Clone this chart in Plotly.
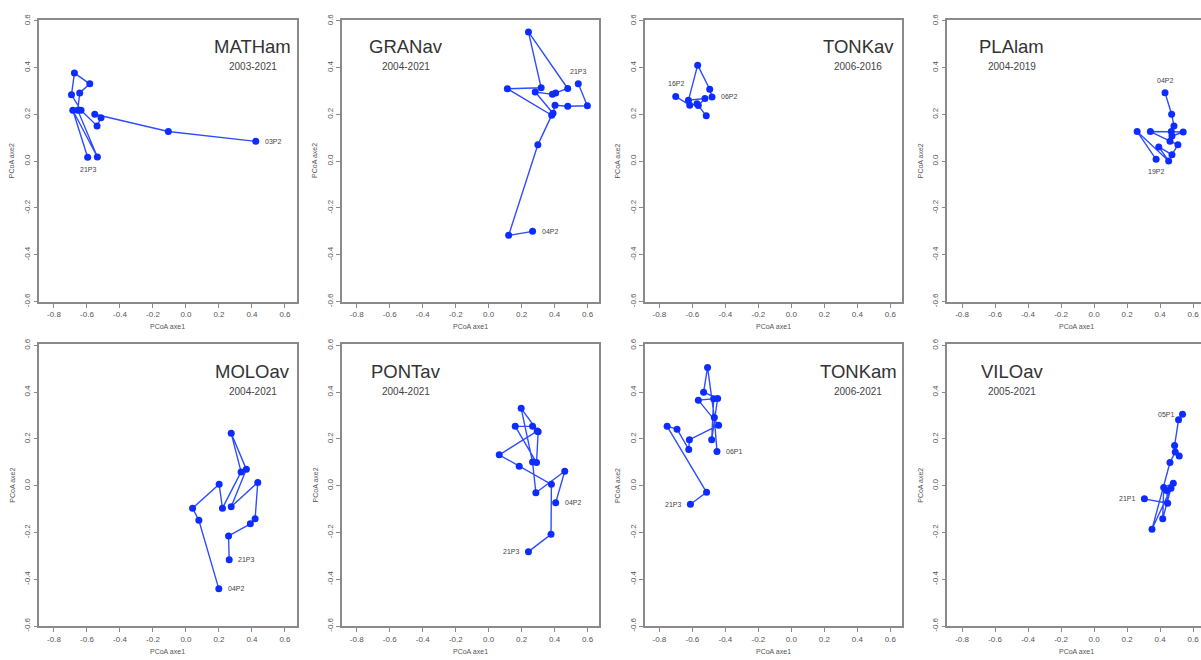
import plotly.graph_objects as go

# ---------------- data ----------------
sites = ["MATHam", "GRANav", "TONKav", "PLAlam", "MOLOav", "PONTav", "TONKam", "VILOav"]
periods = ["2003-2021", "2004-2021", "2006-2016", "2004-2019",
           "2004-2021", "2004-2021", "2006-2021", "2005-2021"]

mat_x = [0.423, -0.107, -0.553, -0.515, -0.539, -0.636, -0.694, -0.676, -0.583, -0.644, -0.656, -0.537, -0.686, -0.596]
mat_y = [0.085, 0.127, 0.201, 0.186, 0.151, 0.218, 0.284, 0.377, 0.331, 0.292, 0.218, 0.018, 0.218, 0.017]

gra_x = [0.266, 0.121, 0.298, 0.382, 0.113, 0.318, 0.241, 0.479, 0.406, 0.386, 0.282, 0.390, 0.402, 0.479, 0.598, 0.543]
gra_y = [-0.300, -0.317, 0.070, 0.197, 0.310, 0.314, 0.553, 0.311, 0.292, 0.286, 0.296, 0.205, 0.239, 0.235, 0.237, 0.331]

tkv_x = [-0.481, -0.495, -0.568, -0.624, -0.524, -0.564, -0.516, -0.572, -0.616, -0.701]
tkv_y = [0.275, 0.308, 0.411, 0.261, 0.268, 0.238, 0.194, 0.246, 0.239, 0.277]

pla_x = [0.430, 0.470, 0.484, 0.468, 0.472, 0.540, 0.341, 0.460, 0.508, 0.472, 0.392, 0.452, 0.261, 0.376]
pla_y = [0.293, 0.201, 0.151, 0.127, 0.108, 0.125, 0.127, 0.085, 0.070, 0.028, 0.061, 0.001, 0.127, 0.008]

mol_x = [0.199, 0.078, 0.040, 0.201, 0.221, 0.334, 0.274, 0.366, 0.274, 0.435, 0.419, 0.390, 0.258, 0.262]
mol_y = [-0.441, -0.148, -0.096, 0.006, -0.096, 0.059, 0.224, 0.070, -0.090, 0.014, -0.141, -0.163, -0.215, -0.317]

pon_x = [0.406, 0.461, 0.286, 0.266, 0.197, 0.300, 0.290, 0.161, 0.266, 0.294, 0.064, 0.185, 0.380, 0.378, 0.241]
pon_y = [-0.073, 0.062, -0.030, 0.101, 0.331, 0.231, 0.099, 0.254, 0.254, 0.234, 0.132, 0.083, 0.006, -0.208, -0.282]

tkm_x = [-0.451, -0.467, -0.508, -0.532, -0.447, -0.483, -0.471, -0.564, -0.441, -0.618, -0.622, -0.693, -0.753, -0.514, -0.612]
tkm_y = [0.146, 0.292, 0.506, 0.400, 0.373, 0.197, 0.372, 0.366, 0.259, 0.197, 0.155, 0.242, 0.254, -0.028, -0.079]

vil_x = [0.536, 0.512, 0.488, 0.516, 0.492, 0.460, 0.351, 0.480, 0.422, 0.416, 0.466, 0.440, 0.446, 0.305]
vil_y = [0.306, 0.282, 0.172, 0.127, 0.144, 0.099, -0.186, 0.011, -0.008, -0.141, -0.011, -0.020, -0.075, -0.056]

first_labels = ["03P2", "04P2", "06P2", "04P2", "04P2", "04P2", "06P1", "05P1"]
last_labels = ["21P3", "21P3", "16P2", "19P2", "21P3", "21P3", "21P3", "21P1"]

tick_vals = [-0.8, -0.6, -0.4, -0.2, 0.0, 0.2, 0.4, 0.6]
tick_text = ["-0.8", "-0.6", "-0.4", "-0.2", "0.0", "0.2", "0.4", "0.6"]
ytick_vals = [-0.6, -0.4, -0.2, 0.0, 0.2, 0.4, 0.6]
ytick_text = ["-0.6", "-0.4", "-0.2", "0.0", "0.2", "0.4", "0.6"]

xs = [mat_x, gra_x, tkv_x, pla_x, mol_x, pon_x, tkm_x, vil_x]
ys = [mat_y, gra_y, tkv_y, pla_y, mol_y, pon_y, tkm_y, vil_y]

# ---------------- style / layout ----------------
W, H = 1201, 660
FONT = "Liberation Sans, Arial, sans-serif"
MARK = "#0d2cff"
LINE = "#2f4dff"
BOX = "#8a8a8a"
TXT = "#555555"

title_x = [0.405, -0.50, 0.405, -0.50, 0.405, -0.50, 0.405, -0.50]
first_pos = ["right", "right", "right", "above", "right", "right", "right", "left"]
last_pos = ["below", "above", "above", "below", "right", "left", "left", "left"]

col_left = [39.3 + 302.7 * k for k in range(4)]
col_right = [min(296.7 + 302.7 * k, W) for k in range(4)]
row_top = [14, 344]
row_bot = [301, 631]
px_per_unit = (296.7 - 39.3) / 1.56
x_lo = -0.889

fig = go.Figure()
layout = dict(width=W, height=H, margin=dict(l=0, r=0, t=0, b=0),
              paper_bgcolor="white", plot_bgcolor="white", showlegend=False,
              font=dict(family=FONT, color=TXT))
annotations = []

for i in range(8):
    r, c = divmod(i, 4)
    k = "" if i == 0 else str(i + 1)
    xa, ya = "x" + k, "y" + k
    fig.add_trace(go.Scatter(x=xs[i], y=ys[i], mode="lines+markers", xaxis=xa, yaxis=ya,
                             line=dict(color=LINE, width=1.4),
                             marker=dict(color=MARK, size=7), hoverinfo="skip"))
    x_hi = x_lo + (col_right[c] - col_left[c]) / px_per_unit
    layout["xaxis" + k] = dict(domain=[col_left[c] / W, col_right[c] / W], anchor=ya,
                               range=[x_lo, x_hi], showgrid=False, zeroline=False,
                               showline=True, mirror=True, linecolor=BOX, linewidth=1.6,
                               ticks="outside", ticklen=4, tickcolor=BOX, tickwidth=1,
                               tickvals=tick_vals, ticktext=tick_text,
                               tickfont=dict(size=8, color=TXT, family=FONT))
    layout["yaxis" + k] = dict(domain=[1 - row_bot[r] / H, 1 - row_top[r] / H], anchor=xa,
                               range=[-0.602, 0.605], showgrid=False, zeroline=False,
                               showline=True, mirror=(c != 3), linecolor=BOX, linewidth=1.6,
                               ticks="outside", ticklen=4, tickcolor=BOX, tickwidth=1,
                               tickvals=ytick_vals, ticktext=ytick_text, tickangle=-90,
                               tickfont=dict(size=8, color=TXT, family=FONT))
    # axis titles
    annotations.append(dict(text="PCoA axe1", xref=xa + " domain", yref=ya + " domain",
                            x=(0.5 * (296.7 - 39.3)) / (col_right[c] - col_left[c]),
                            y=0, yanchor="middle", yshift=-25, showarrow=False,
                            font=dict(size=7, color=TXT, family=FONT)))
    annotations.append(dict(text="PCoA axe2", xref=xa + " domain", yref=ya + " domain",
                            x=0, y=0.5, xanchor="center", xshift=-27, textangle=-90,
                            showarrow=False, font=dict(size=7, color=TXT, family=FONT)))
    # site title and period
    annotations.append(dict(text=sites[i], xref=xa, yref=ya, x=title_x[i], y=0.49,
                            showarrow=False, font=dict(size=18.5, color="#333333", family=FONT)))
    annotations.append(dict(text=periods[i], xref=xa, yref=ya, x=title_x[i], y=0.405,
                            showarrow=False, font=dict(size=10, color="#444444", family=FONT)))
    # first / last point labels
    for lab, pos, idx in ((first_labels[i], first_pos[i], 0), (last_labels[i], last_pos[i], -1)):
        a = dict(text=lab, xref=xa, yref=ya, x=xs[i][idx], y=ys[i][idx], showarrow=False,
                 font=dict(size=7, color="#444444", family=FONT))
        if pos == "right":
            a.update(xanchor="left", xshift=7)
        elif pos == "left":
            a.update(xanchor="right", xshift=-7)
        elif pos == "above":
            a.update(yanchor="bottom", yshift=7)
        else:
            a.update(yanchor="top", yshift=-7)
        annotations.append(a)

layout["annotations"] = annotations
fig.update_layout(**layout)
fig.write_html("out.html", config={"displayModeBar": False},
               post_script="document.body.style.margin='0';document.body.style.overflow='hidden';")
